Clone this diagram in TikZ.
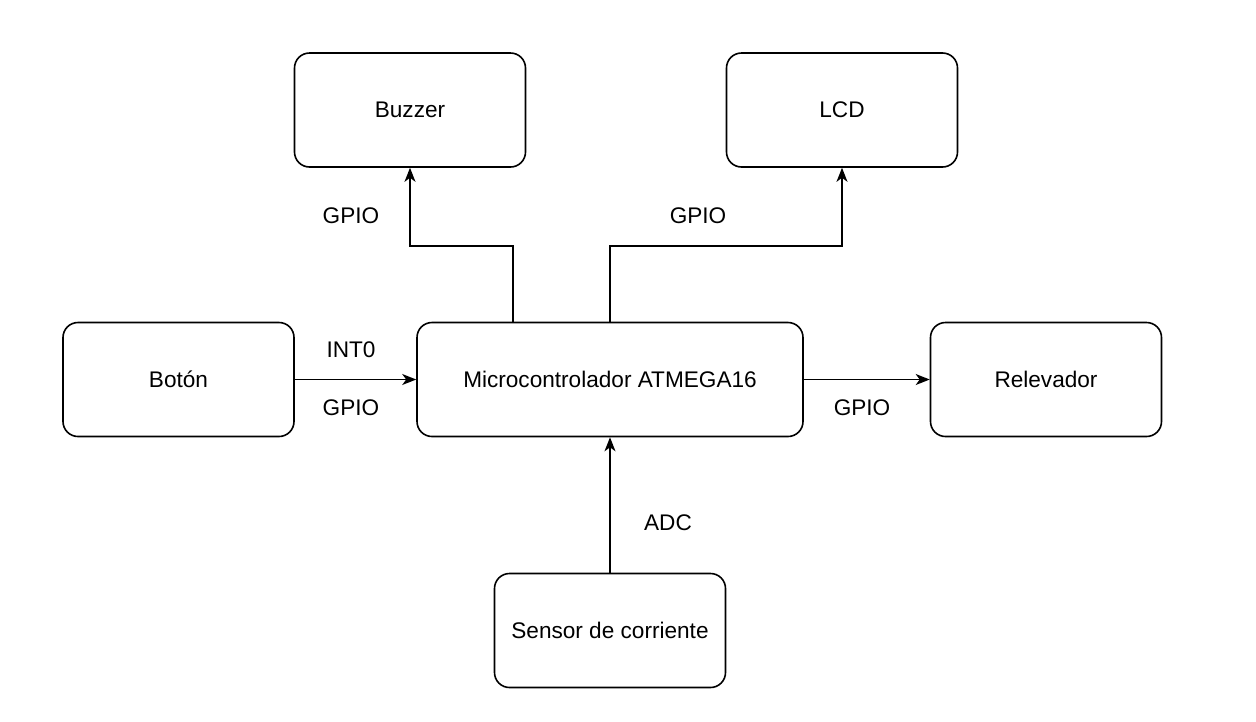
\documentclass[tikz,border=0pt]{standalone}
\usepackage{fontspec}
\setmainfont{Liberation Sans}
\usetikzlibrary{arrows.meta}
\begin{document}
\begin{tikzpicture}[x=1pt,y=-1pt,
  box/.style={draw=black, line width=1.6pt, rounded corners=15pt, rectangle, inner sep=0pt, fill=white},
  small/.style={box, minimum width=231pt, minimum height=114pt},
  arr/.style={line width=1.6pt, -{Stealth[length=14pt,width=11pt,inset=4pt]}},
  lbl/.style={inner sep=0pt},
  every node/.style={font=\fontsize{22.6}{27}\selectfont, text=black}]
\useasboundingbox[fill=white] (0,0) rectangle (1256,721);
\node[small] (buzzer) at (410,110) {Buzzer};
\node[small] (lcd) at (842,110) {LCD};
\node[small] (boton) at (178.5,379.5) {Botón};
\node[box, minimum width=386pt, minimum height=114pt] (micro) at (610,379.5) {Microcontrolador ATMEGA16};
\node[small] (rele) at (1046,379.5) {Relevador};
\node[small] (sensor) at (610,630.5) {Sensor de corriente};
\coordinate (b1) at (513,246);
\coordinate (l1) at (610,246);
\draw[arr] (micro.north -| b1) -- (b1) -| (buzzer.south);
\draw[arr] (micro.north) -- (l1) -| (lcd.south);
\draw[arr] (boton.east) -- (micro.west);
\draw[arr] (micro.east) -- (rele.west);
\draw[arr] (sensor.north) -- (micro.south);
\node[lbl] (g1) at (351,216) {GPIO};
\node[lbl] (g2) at (698,216) {GPIO};
\node[lbl] (i0) at (351,350) {INT0};
\node[lbl] (g3) at (351,408) {GPIO};
\node[lbl] (g4) at (862,408) {GPIO};
\node[lbl] (adc) at (668,523) {ADC};
\end{tikzpicture}
\end{document}
